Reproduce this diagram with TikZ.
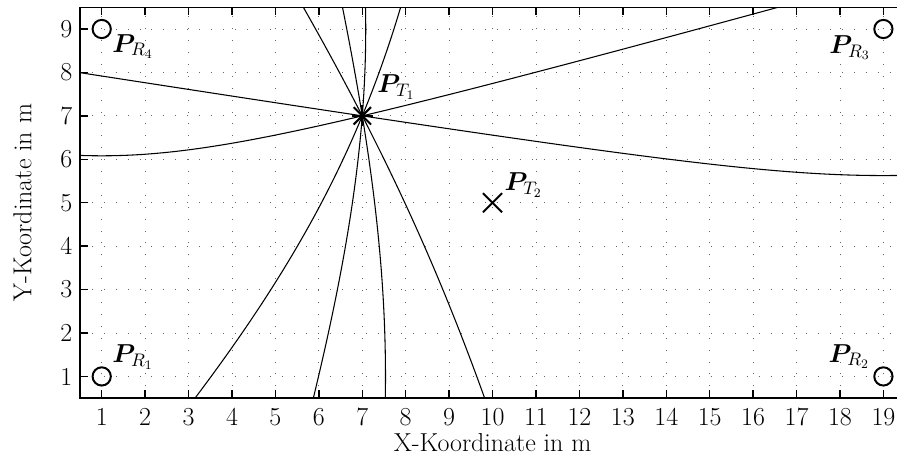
\RequirePackage{fix-cm}
\documentclass[tikz,border=0pt]{standalone}
\usepackage{amsmath,bm}
\usetikzlibrary{calc}
\begin{document}
\begin{tikzpicture}[x=1cm,y=1cm,
  curve/.style={line width=0.7pt},
  gridline/.style={black!60, line width=0.6pt, dash pattern=on 0.6pt off 7.2pt},
  axisline/.style={line width=1pt},
  ticklab/.style={font=\fontsize{17}{20}\selectfont, inner sep=0pt},
  axlab/.style={font=\fontsize{17}{20}\selectfont, inner sep=0pt},
  plab/.style={font=\fontsize{17}{20}\selectfont, inner sep=0pt, anchor=base west},
  markline/.style={line width=1.3pt}
]
\clip (-1.342,-0.855) rectangle (19.313,9.668);
% grid
\foreach \i in {1,...,19} \draw[gridline] (\i,0.5) -- (\i,9.5);
\foreach \j in {1,...,9} \draw[gridline] (0.5,\j) -- (19.5,\j);
% curves
\begin{scope}
\clip (0.5,0.5) rectangle (19.5,9.5);
\draw[curve] plot[domain=0.5:19.5, samples=200, variable=\t] ({\t},{5+1.08036*sqrt(1+(\t-1)*(\t-1)/14.83282)});
\draw[curve] plot[domain=0.5:19.5, samples=200, variable=\t] ({\t},{5+0.62544*sqrt(1+(\t-19)*(\t-19)/15.60882)});
\draw[curve] plot[domain=0.5:9.5, samples=150, variable=\t] ({10-2.46557*sqrt(1+(\t-1)*(\t-1)/74.92097)},{\t});
\draw[curve] plot[domain=0.5:9.5, samples=150, variable=\t] ({10-2.92049*sqrt(1+(\t-9)*(\t-9)/72.47076)},{\t});
\draw[curve] plot[domain=-0.7:0.7, samples=200, variable=\t]
  ({10-1.68149*(exp(\t)+exp(-\t))/2-3.92948*(exp(\t)-exp(-\t))/2},
   {5-0.74733*(exp(\t)+exp(-\t))/2+8.84131*(exp(\t)-exp(-\t))/2});
\draw[curve] plot[domain=-0.8:0.6, samples=200, variable=\t]
  ({10-3.24022*(exp(\t)+exp(-\t))/2+3.73169*(exp(\t)-exp(-\t))/2},
   {5+1.44011*(exp(\t)+exp(-\t))/2+8.39639*(exp(\t)-exp(-\t))/2});
\end{scope}
% axes box
\draw[axisline] (0.5,0.5) rectangle (19.5,9.5);
\foreach \i in {1,...,19} {
  \draw[axisline] (\i,0.5) -- (\i,0.68);
  \draw[axisline] (\i,9.5) -- (\i,9.32);
  \node[ticklab, anchor=base] (xt\i) at (\i,-0.12) {\i};
}
\foreach \j in {1,...,9} {
  \draw[axisline] (0.5,\j) -- (0.68,\j);
  \node[ticklab, anchor=east] (yt\j) at (0.33,\j) {\j};
}
\node[axlab, anchor=base] (xlab) at (10,-0.74) {X-Koordinate in m};
\node[axlab, anchor=base, rotate=90] (ylab) at (-0.62,5) {Y-Koordinate in m};
% receivers
\foreach \n/\x/\y in {R1/1/1, R2/19/1, R3/19/9, R4/1/9}
  \draw[markline] (\x,\y) circle (0.21);
\coordinate (T1) at (7,7);
\coordinate (T2) at (10,5);
\draw[markline] ($(T1)+(-0.2,-0.2)$) -- ($(T1)+(0.2,0.2)$);
\draw[markline] ($(T1)+(-0.2,0.2)$) -- ($(T1)+(0.2,-0.2)$);
\draw[markline] ($(T1)+(0,-0.24)$) -- ($(T1)+(0,0.24)$);
\draw[markline] ($(T1)+(-0.24,0)$) -- ($(T1)+(0.24,0)$);
\draw[markline] ($(T2)+(-0.22,-0.22)$) -- ($(T2)+(0.22,0.22)$);
\draw[markline] ($(T2)+(-0.22,0.22)$) -- ($(T2)+(0.22,-0.22)$);
% labels
\node[plab] (lR4) at (1.24,8.47) {$\bm{P}_{R_4}$};
\node[plab] (lR3) at (17.75,8.445) {$\bm{P}_{R_3}$};
\node[plab] (lR1) at (1.24,1.31) {$\bm{P}_{R_1}$};
\node[plab] (lR2) at (17.73,1.33) {$\bm{P}_{R_2}$};
\node[plab] (lT1) at (7.34,7.53) {$\bm{P}_{T_1}$};
\node[plab] (lT2) at (10.27,5.27) {$\bm{P}_{T_2}$};
\end{tikzpicture}
\end{document}
